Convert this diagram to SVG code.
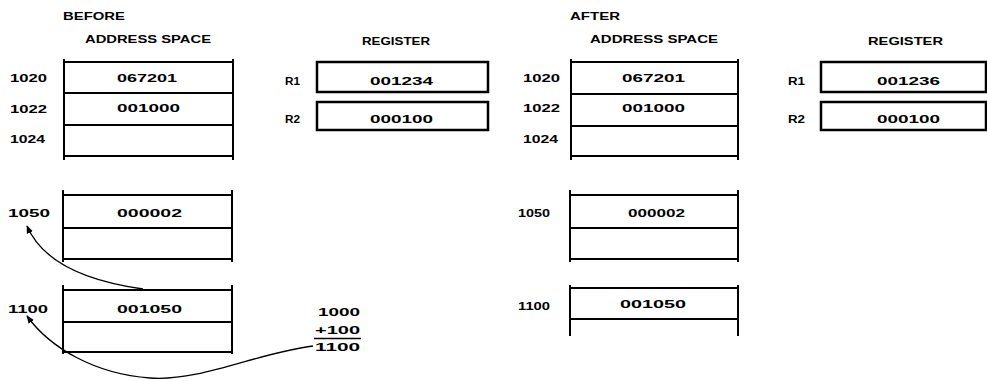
<svg xmlns="http://www.w3.org/2000/svg" width="987" height="381" viewBox="0 0 987 381">
<style>
text{font-family:"Liberation Sans",Arial,sans-serif;font-size:11.5px;fill:#000;font-weight:bold}
.ln{stroke:#000;stroke-width:2;fill:none}
.reg{stroke:#000;stroke-width:2.5;fill:#fff}
.arr{stroke:#000;stroke-width:1.3;fill:none;marker-end:url(#ah)}
</style>
<defs>
<marker id="ah" viewBox="0 0 10 10" refX="9" refY="5" markerWidth="8" markerHeight="8" markerUnits="userSpaceOnUse" orient="auto">
<path d="M0,1 L10,5 L0,9 Z" fill="#000"/>
</marker>
</defs>
<rect width="987" height="381" fill="#fff"/>

<g id="headers">
<text x="63" y="20" textLength="62" lengthAdjust="spacingAndGlyphs">BEFORE</text>
<text x="85" y="43" textLength="126" lengthAdjust="spacingAndGlyphs">ADDRESS SPACE</text>
<text x="362" y="45" textLength="68" lengthAdjust="spacingAndGlyphs">REGISTER</text>
<text x="570" y="20" textLength="50" lengthAdjust="spacingAndGlyphs">AFTER</text>
<text x="590" y="43" textLength="128" lengthAdjust="spacingAndGlyphs">ADDRESS SPACE</text>
<text x="868" y="45" textLength="75" lengthAdjust="spacingAndGlyphs">REGISTER</text>
</g>

<g id="before-mem-1020">
<path class="ln" d="M64,59 V160 M233,59 V160 M64,62 H233 M64,93 H233 M64,125 H233 M64,156 H233"/>
<text x="10" y="82" textLength="37" lengthAdjust="spacingAndGlyphs">1020</text>
<text x="10" y="113" textLength="37" lengthAdjust="spacingAndGlyphs">1022</text>
<text x="10" y="143" textLength="35" lengthAdjust="spacingAndGlyphs">1024</text>
<text x="117" y="82" textLength="60" lengthAdjust="spacingAndGlyphs">067201</text>
<text x="117" y="112" textLength="63" lengthAdjust="spacingAndGlyphs">001000</text>
</g>

<g id="before-mem-1050">
<path class="ln" d="M63,190 V262 M232,190 V262 M63,195 H232 M63,228 H232 M63,259 H232"/>
<text x="8" y="217" textLength="42" lengthAdjust="spacingAndGlyphs">1050</text>
<text x="117" y="217" textLength="65" lengthAdjust="spacingAndGlyphs">000002</text>
</g>

<g id="before-mem-1100">
<path class="ln" d="M63,285 V354 M232,285 V354 M63,290 H232 M63,322 H232 M63,352 H232"/>
<text x="8" y="313" textLength="40" lengthAdjust="spacingAndGlyphs">1100</text>
<text x="117" y="313" textLength="65" lengthAdjust="spacingAndGlyphs">001050</text>
</g>

<g id="before-reg-r1">
<rect class="reg" x="317" y="62" width="171" height="30"/>
<text x="285" y="85" textLength="15" lengthAdjust="spacingAndGlyphs">R1</text>
<text x="370" y="85" textLength="63" lengthAdjust="spacingAndGlyphs">001234</text>
</g>
<g id="before-reg-r2">
<rect class="reg" x="317" y="102" width="171" height="28"/>
<text x="285" y="123" textLength="15" lengthAdjust="spacingAndGlyphs">R2</text>
<text x="370" y="123" textLength="63" lengthAdjust="spacingAndGlyphs">000100</text>
</g>

<g id="sum">
<text x="318" y="316" textLength="42" lengthAdjust="spacingAndGlyphs">1000</text>
<text x="315" y="334" textLength="45" lengthAdjust="spacingAndGlyphs">+100</text>
<line class="ln" x1="314" y1="338.5" x2="361" y2="338.5" style="stroke-width:1.5"/>
<text x="315" y="351" textLength="45" lengthAdjust="spacingAndGlyphs">1100</text>
</g>

<g id="after-mem-1020">
<path class="ln" d="M571,59 V160 M738,59 V160 M571,62 H738 M571,94 H738 M571,126 H738 M571,156 H738"/>
<text x="523" y="82" textLength="37" lengthAdjust="spacingAndGlyphs">1020</text>
<text x="523" y="112" textLength="37" lengthAdjust="spacingAndGlyphs">1022</text>
<text x="523" y="143" textLength="35" lengthAdjust="spacingAndGlyphs">1024</text>
<text x="622" y="82" textLength="63" lengthAdjust="spacingAndGlyphs">067201</text>
<text x="622" y="112" textLength="63" lengthAdjust="spacingAndGlyphs">001000</text>
</g>

<g id="after-mem-1050">
<path class="ln" d="M570,190 V262 M738,190 V262 M570,195 H738 M570,228 H738 M570,259 H738"/>
<text x="518" y="217" textLength="32" lengthAdjust="spacingAndGlyphs">1050</text>
<text x="628" y="217" textLength="57" lengthAdjust="spacingAndGlyphs">000002</text>
</g>

<g id="after-mem-1100">
<path class="ln" d="M570,285 V336 M738,285 V336 M570,288 H738 M570,319 H738"/>
<text x="518" y="310" textLength="32" lengthAdjust="spacingAndGlyphs">1100</text>
<text x="620" y="308" textLength="66" lengthAdjust="spacingAndGlyphs">001050</text>
</g>

<g id="after-reg-r1">
<rect class="reg" x="821" y="62" width="165" height="30"/>
<text x="788" y="85" textLength="17" lengthAdjust="spacingAndGlyphs">R1</text>
<text x="877" y="85" textLength="63" lengthAdjust="spacingAndGlyphs">001236</text>
</g>
<g id="after-reg-r2">
<rect class="reg" x="821" y="102" width="165" height="28"/>
<text x="788" y="123" textLength="17" lengthAdjust="spacingAndGlyphs">R2</text>
<text x="877" y="123" textLength="63" lengthAdjust="spacingAndGlyphs">000100</text>
</g>

<g id="connectors">
<path class="arr" d="M143,289 C100,283 45,268 27,226"/>
<path class="arr" d="M313,346 C260,352 200,382 150,378 C95,374 50,348 27,316"/>
</g>
</svg>
